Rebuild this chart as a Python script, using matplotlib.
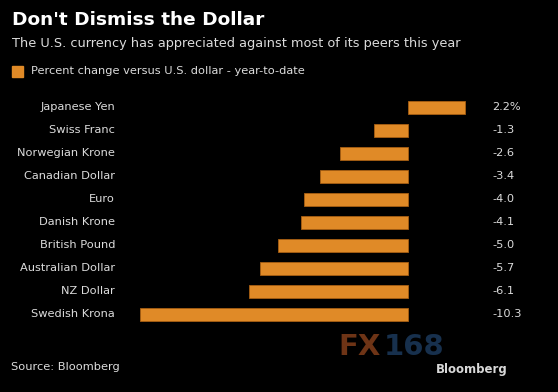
import matplotlib.pyplot as plt
import numpy as np

currencies = ["Japanese Yen", "Swiss Franc", "Norwegian Krone", "Canadian Dollar", "Euro",
              "Danish Krone", "British Pound", "Australian Dollar", "NZ Dollar", "Swedish Krona"]
pct_change = [2.2, -1.3, -2.6, -3.4, -4.0, -4.1, -5.0, -5.7, -6.1, -10.3]
value_labels = ["2.2%", "-1.3", "-2.6", "-3.4", "-4.0", "-4.1", "-5.0", "-5.7", "-6.1", "-10.3"]

W, H = 558, 392
bg = "black"
bar_col = "#e08a27"
txt = "#dcdcdc"

fig = plt.figure(figsize=(W / 100, H / 100), dpi=100, facecolor=bg)

# axes placed in pixel space: zero line at x=408, ~26 px per unit
ax_l, ax_r, ax_t, ax_b = 130, 480, 96, 326
ax = fig.add_axes([ax_l / W, 1 - ax_b / H, (ax_r - ax_l) / W, (ax_b - ax_t) / H])
ax.set_facecolor(bg)
scale = 26.0
zero = 408
ax.set_xlim((ax_l - zero) / scale, (ax_r - zero) / scale)
ax.set_ylim(len(currencies) - 0.5, -0.5)

y = np.arange(len(currencies))
ax.barh(y, pct_change, height=0.58, color=bar_col, edgecolor="#a85f12", linewidth=0.6)
for s in ax.spines.values():
    s.set_visible(False)
ax.set_xticks([])
ax.set_yticks([])

for i, name in enumerate(currencies):
    ax.annotate(name, xy=(0, y[i]), xycoords=("axes fraction", "data"),
                xytext=(115 - ax_l, 0), textcoords="offset pixels",
                ha="right", va="center", color=txt, fontsize=8.2)
    ax.annotate(value_labels[i], xy=(0, y[i]), xycoords=("axes fraction", "data"),
                xytext=(492 - ax_l, 0), textcoords="offset pixels",
                ha="left", va="center", color=txt, fontsize=8.2)

fig.text(12 / W, 1 - 20 / H, "Don't Dismiss the Dollar", color="white",
         fontsize=13.3, fontweight="bold", va="center", ha="left")
fig.text(12 / W, 1 - 44 / H, "The U.S. currency has appreciated against most of its peers this year",
         color=txt, fontsize=9.3, va="center", ha="left")
fig.patches.append(plt.Rectangle((12 / W, 1 - 77 / H), 11 / W, 11 / H,
                                 transform=fig.transFigure, color=bar_col))
fig.text(31 / W, 1 - 71.5 / H, "Percent change versus U.S. dollar - year-to-date",
         color=txt, fontsize=8.2, va="center", ha="left")

fig.text(11 / W, 1 - 367 / H, "Source: Bloomberg", color=txt, fontsize=8.2, va="center", ha="left")

# watermark
fig.text(338 / W, 1 - 347 / H, "FX", color="#6e3416", fontsize=21, fontweight="bold",
         va="center", ha="left")
fig.text(384 / W, 1 - 347 / H, "168", color="#17304d", fontsize=21, fontweight="bold",
         va="center", ha="left")
fig.text(508 / W, 1 - 370 / H, "Bloomberg", color="#d8d8d8", fontsize=8.5, fontweight="bold",
         va="center", ha="right")

fig.savefig("out.png", dpi=100, facecolor=bg)
